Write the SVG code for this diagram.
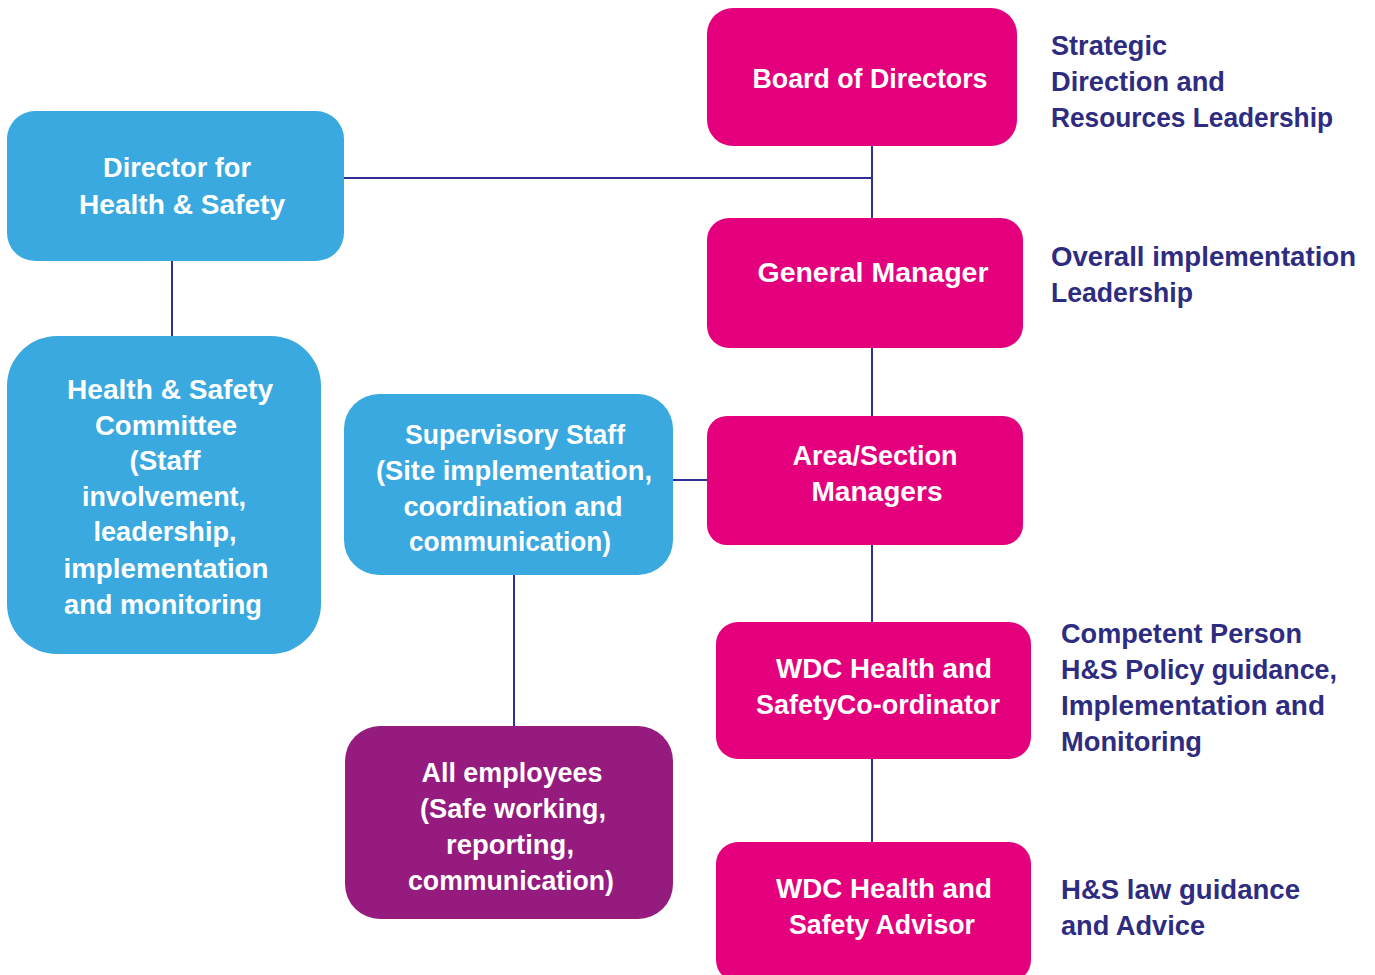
<svg xmlns="http://www.w3.org/2000/svg" width="1375" height="975" viewBox="0 0 1375 975">
<style>
.pink{fill:#E4007C}
.blue{fill:#39A9DF}
.purple{fill:#951B7F}
.t{font-family:"Liberation Sans",Arial,sans-serif;font-weight:bold;font-size:27px;fill:#ffffff;text-anchor:middle}
.r{font-family:"Liberation Sans",Arial,sans-serif;font-weight:bold;font-size:27px;fill:#2E2C80}
.c{stroke:#2E3192;stroke-width:2;fill:none}
</style>
<rect width="1375" height="975" fill="#ffffff"/>
<g id="connectors">
<line class="c" x1="872" y1="146" x2="872" y2="218"/>
<line class="c" x1="344" y1="178" x2="872" y2="178"/>
<line class="c" x1="872" y1="348" x2="872" y2="416"/>
<line class="c" x1="872" y1="545" x2="872" y2="622"/>
<line class="c" x1="872" y1="759" x2="872" y2="842"/>
<line class="c" x1="172" y1="261" x2="172" y2="336"/>
<line class="c" x1="673" y1="480" x2="707" y2="480"/>
<line class="c" x1="514" y1="575" x2="514" y2="726"/>
</g>
<g id="board">
<rect class="pink" x="707" y="8" width="310" height="138" rx="26"/>
<text class="t" x="870" y="88" textLength="235" lengthAdjust="spacingAndGlyphs">Board of Directors</text>
</g>
<g id="general-manager">
<rect class="pink" x="707" y="218" width="316" height="130" rx="22"/>
<text class="t" x="873" y="282" textLength="231" lengthAdjust="spacingAndGlyphs">General Manager</text>
</g>
<g id="area-managers">
<rect class="pink" x="707" y="416" width="316" height="129" rx="20"/>
<text class="t" x="875" y="465" textLength="165" lengthAdjust="spacingAndGlyphs">Area/Section</text>
<text class="t" x="877" y="501" textLength="131" lengthAdjust="spacingAndGlyphs">Managers</text>
</g>
<g id="coordinator">
<rect class="pink" x="716" y="622" width="315" height="137" rx="22"/>
<text class="t" x="884" y="678" textLength="216" lengthAdjust="spacingAndGlyphs">WDC Health and</text>
<text class="t" x="878" y="714" textLength="244" lengthAdjust="spacingAndGlyphs">SafetyCo-ordinator</text>
</g>
<g id="advisor">
<rect class="pink" x="716" y="842" width="315" height="140" rx="22"/>
<text class="t" x="884" y="898" textLength="216" lengthAdjust="spacingAndGlyphs">WDC Health and</text>
<text class="t" x="882" y="934" textLength="186" lengthAdjust="spacingAndGlyphs">Safety Advisor</text>
</g>
<g id="director-hs">
<rect class="blue" x="7" y="111" width="337" height="150" rx="28"/>
<text class="t" x="177" y="177" textLength="148" lengthAdjust="spacingAndGlyphs">Director for</text>
<text class="t" x="182" y="214" textLength="206" lengthAdjust="spacingAndGlyphs">Health &amp; Safety</text>
</g>
<g id="committee">
<rect class="blue" x="7" y="336" width="314" height="318" rx="50"/>
<text class="t" x="170" y="399" textLength="206" lengthAdjust="spacingAndGlyphs">Health &amp; Safety</text>
<text class="t" x="166" y="435" textLength="142" lengthAdjust="spacingAndGlyphs">Committee</text>
<text class="t" x="165" y="470" textLength="71" lengthAdjust="spacingAndGlyphs">(Staff</text>
<text class="t" x="164" y="506" textLength="164" lengthAdjust="spacingAndGlyphs">involvement,</text>
<text class="t" x="165" y="541" textLength="143" lengthAdjust="spacingAndGlyphs">leadership,</text>
<text class="t" x="166" y="578" textLength="205" lengthAdjust="spacingAndGlyphs">implementation</text>
<text class="t" x="163" y="614" textLength="198" lengthAdjust="spacingAndGlyphs">and monitoring</text>
</g>
<g id="supervisory">
<rect class="blue" x="344" y="394" width="329" height="181" rx="35"/>
<text class="t" x="515" y="444" textLength="220" lengthAdjust="spacingAndGlyphs">Supervisory Staff</text>
<text class="t" x="514" y="480" textLength="276" lengthAdjust="spacingAndGlyphs">(Site implementation,</text>
<text class="t" x="513" y="516" textLength="219" lengthAdjust="spacingAndGlyphs">coordination and</text>
<text class="t" x="510" y="551" textLength="202" lengthAdjust="spacingAndGlyphs">communication)</text>
</g>
<g id="all-employees">
<rect class="purple" x="345" y="726" width="328" height="193" rx="35"/>
<text class="t" x="512" y="782" textLength="181" lengthAdjust="spacingAndGlyphs">All employees</text>
<text class="t" x="513" y="818" textLength="186" lengthAdjust="spacingAndGlyphs">(Safe working,</text>
<text class="t" x="510" y="854" textLength="128" lengthAdjust="spacingAndGlyphs">reporting,</text>
<text class="t" x="511" y="890" textLength="206" lengthAdjust="spacingAndGlyphs">communication)</text>
</g>
<g id="labels">
<text class="r" x="1051" y="55" textLength="116" lengthAdjust="spacingAndGlyphs">Strategic</text>
<text class="r" x="1051" y="91" textLength="174" lengthAdjust="spacingAndGlyphs">Direction and</text>
<text class="r" x="1051" y="127" textLength="282" lengthAdjust="spacingAndGlyphs">Resources Leadership</text>
<text class="r" x="1051" y="266" textLength="305" lengthAdjust="spacingAndGlyphs">Overall implementation</text>
<text class="r" x="1051" y="302" textLength="142" lengthAdjust="spacingAndGlyphs">Leadership</text>
<text class="r" x="1061" y="643" textLength="241" lengthAdjust="spacingAndGlyphs">Competent Person</text>
<text class="r" x="1061" y="679" textLength="276" lengthAdjust="spacingAndGlyphs">H&amp;S Policy guidance,</text>
<text class="r" x="1061" y="715" textLength="264" lengthAdjust="spacingAndGlyphs">Implementation and</text>
<text class="r" x="1061" y="751" textLength="141" lengthAdjust="spacingAndGlyphs">Monitoring</text>
<text class="r" x="1061" y="899" textLength="239" lengthAdjust="spacingAndGlyphs">H&amp;S law guidance</text>
<text class="r" x="1061" y="935" textLength="144" lengthAdjust="spacingAndGlyphs">and Advice</text>
</g>
</svg>
